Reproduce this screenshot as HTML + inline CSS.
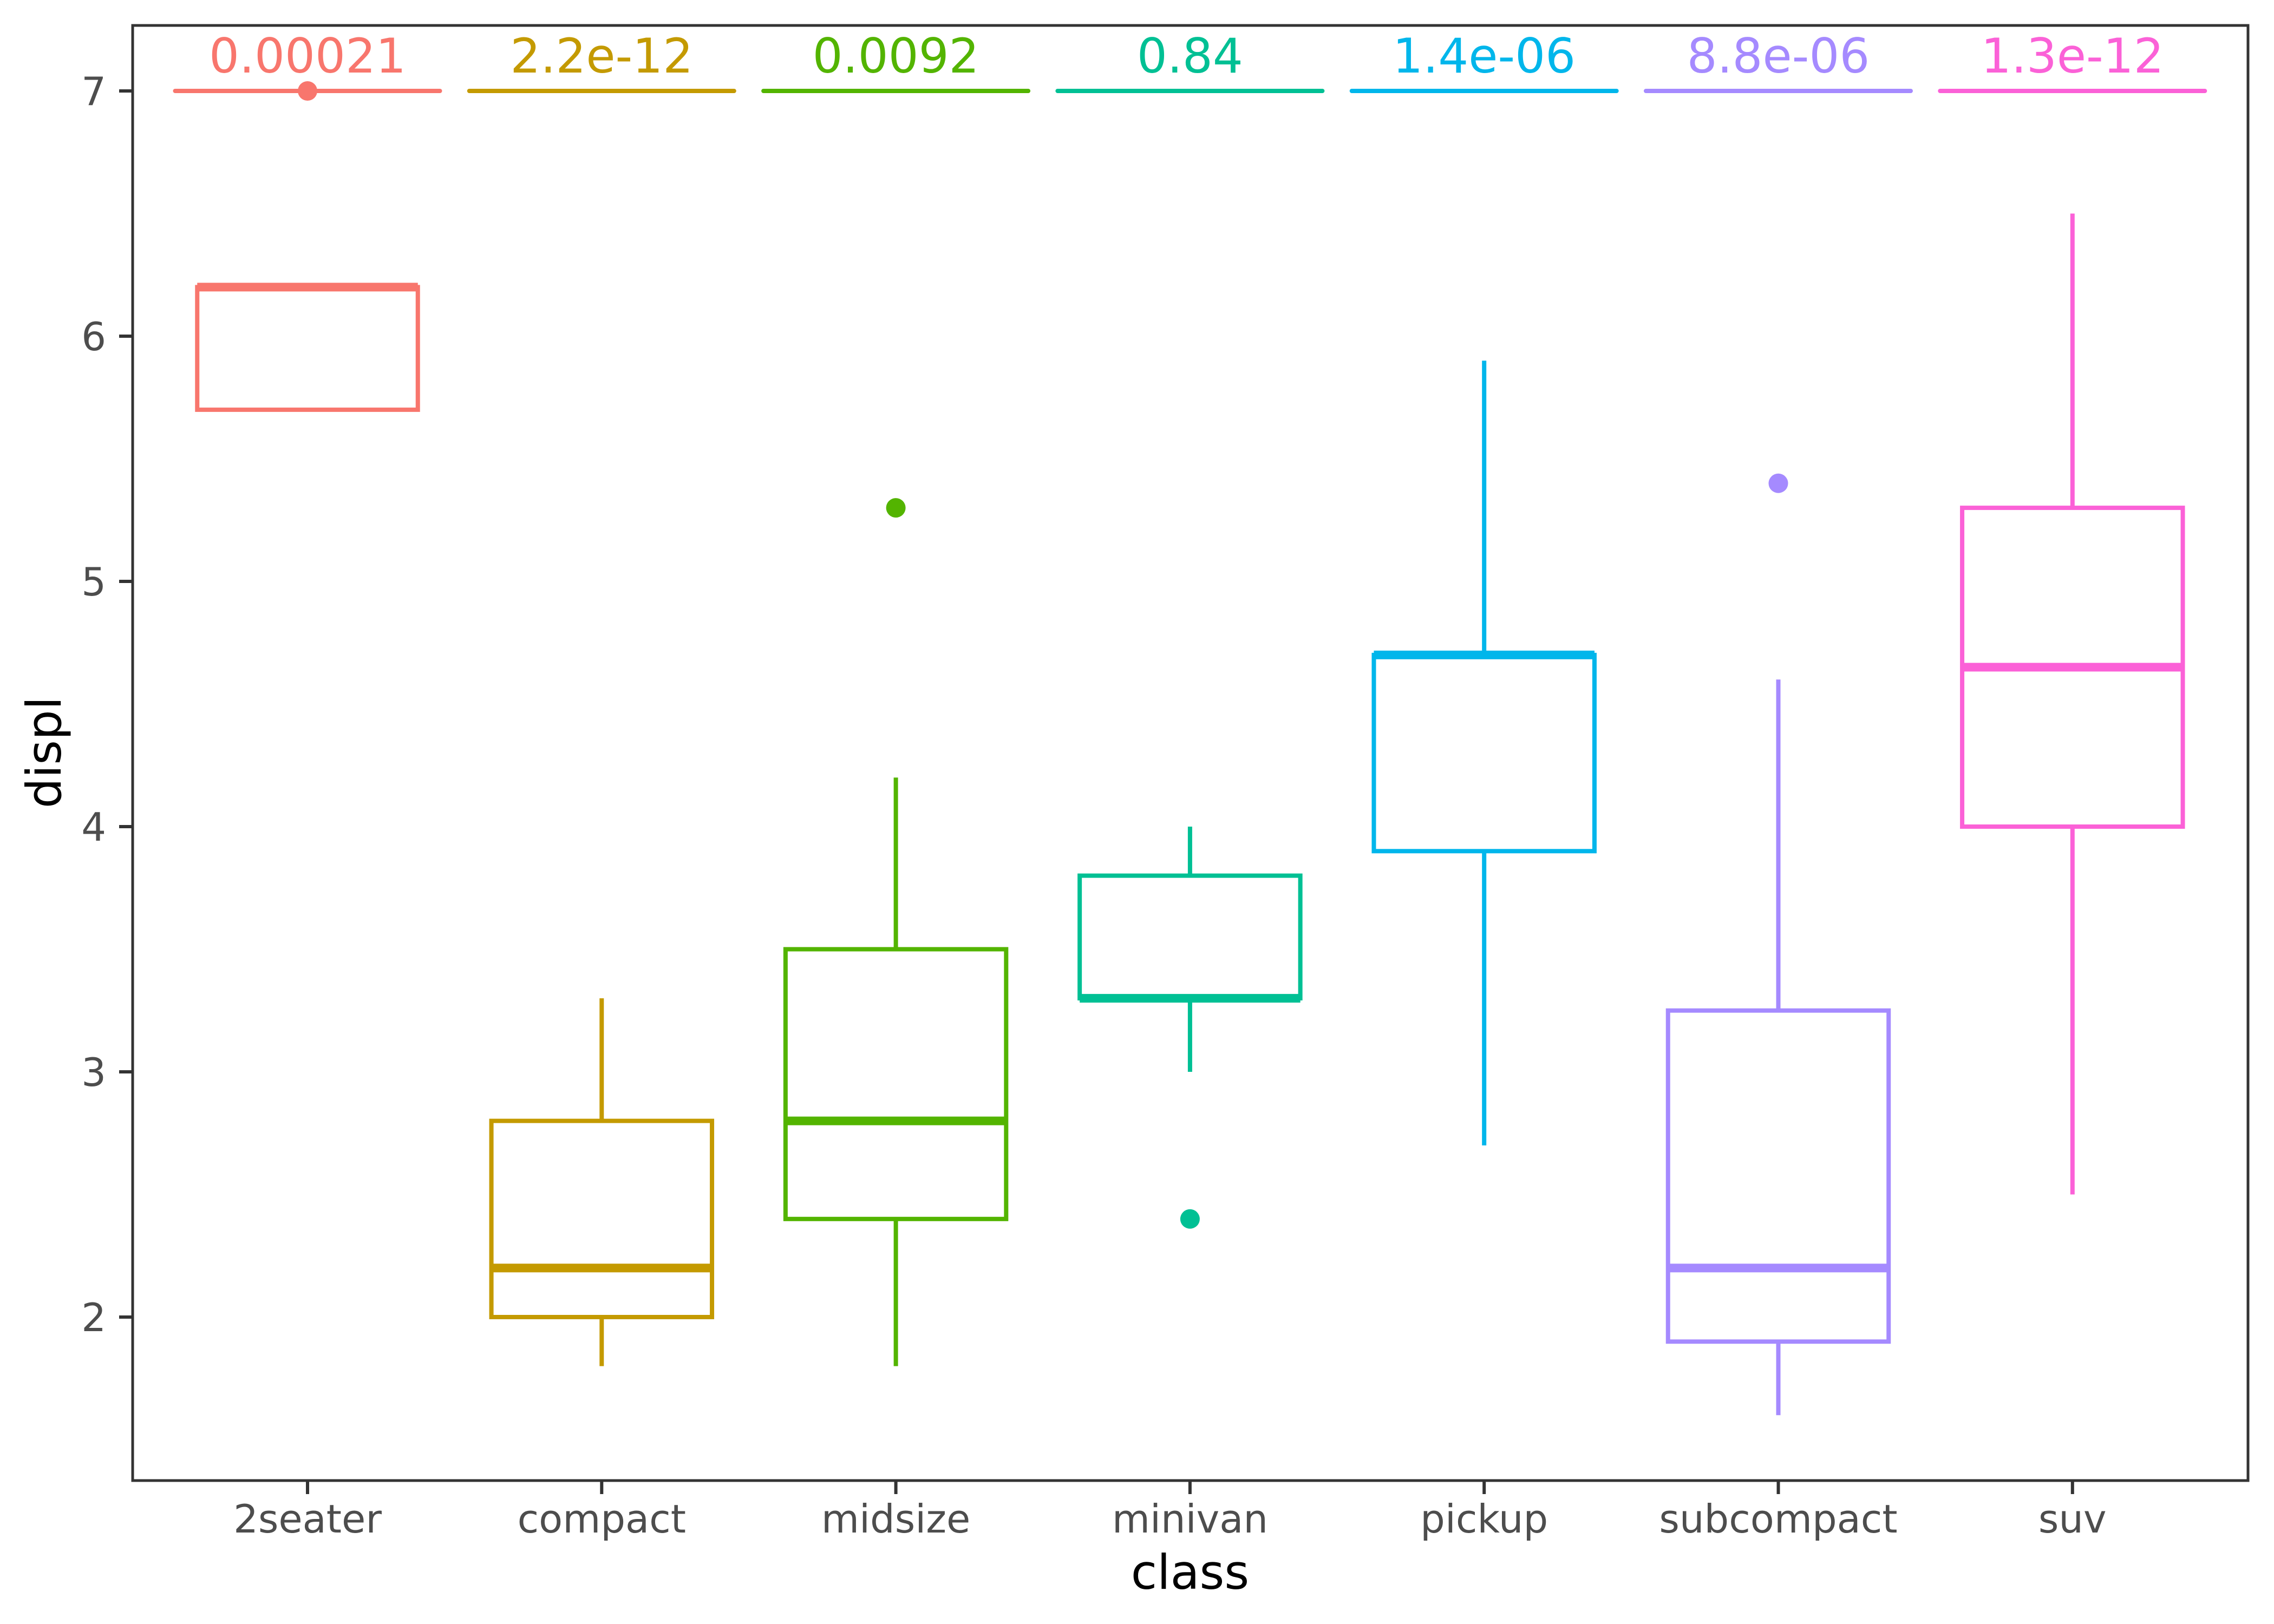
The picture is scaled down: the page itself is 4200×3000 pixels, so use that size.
<!DOCTYPE html>
<html><head><meta charset="utf-8"><style>
html,body{margin:0;padding:0;background:#fff;}
svg{display:block;font-family:"DejaVu Sans","Liberation Sans",sans-serif;}
</style></head><body>
<svg id="chart" width="4200" height="3000" viewBox="0 0 4200 3000" xmlns="http://www.w3.org/2000/svg">
<rect x="0" y="0" width="4200" height="3000" fill="#fff"/>
<g id="marks"></g>
<rect x="245" y="47" width="3907" height="2688" fill="none" stroke="#333" stroke-width="5"/>
<g id="axes"></g>
<text x="2198" y="2935" font-size="88" text-anchor="middle" fill="#000">class</text>
<text x="0" y="0" transform="translate(112,1390) rotate(-90)" font-size="88" text-anchor="middle" fill="#000">displ</text>
</svg>
<script>
const categories = ["2seater","compact","midsize","minivan","pickup","subcompact","suv"];
const colors = ["#F8766D","#C49A00","#53B400","#00C094","#00B6EB","#A58AFF","#FB61D7"];
const whiskerLow = [5.7,1.8,1.8,3.0,2.7,1.6,2.5];
const q1 = [5.7,2.0,2.4,3.3,3.9,1.9,4.0];
const median = [6.2,2.2,2.8,3.3,4.7,2.2,4.65];
const q3 = [6.2,2.8,3.5,3.8,4.7,3.25,5.3];
const whiskerHigh = [6.2,3.3,4.2,4.0,5.9,4.6,6.5];
const outliers = [[7.0],[],[5.3],[2.4],[],[5.4],[]];
const pLabels = ["0.00021","2.2e-12","0.0092","0.84","1.4e-06","8.8e-06","1.3e-12"];
const pY = 7;
const yTicks = [2,3,4,5,6,7];

const NS = "http://www.w3.org/2000/svg";
const x = i => 568 + i * 543.3;
const y = v => 168 + (7 - v) * 453;
const band = 543.3;
const marks = document.getElementById('marks');
const axes = document.getElementById('axes');
function mk(tag, attrs, parent){
  const e = document.createElementNS(NS, tag);
  for (const k in attrs) e.setAttribute(k, attrs[k]);
  parent.appendChild(e);
  return e;
}
categories.forEach((c,i)=>{
  const col = colors[i], cx = x(i), hw = band*0.75/2;
  const g = mk('g', {}, marks);
  
  
  const w1 = mk('line', {x1:cx,x2:cx,y1:y(q3[i]),y2:y(whiskerHigh[i]),stroke:col,'stroke-width':8}, g);
  
  
  const w2 = mk('line', {x1:cx,x2:cx,y1:y(q1[i]),y2:y(whiskerLow[i]),stroke:col,'stroke-width':8}, g);
  
  
  const r = mk('rect', {x:cx-hw,y:y(q3[i]),width:hw*2,height:Math.max(0,y(q1[i])-y(q3[i])),fill:'#fff',stroke:col,'stroke-width':8}, g);
  
  
  const m = mk('line', {x1:cx-hw,x2:cx+hw,y1:y(median[i]),y2:y(median[i]),stroke:col,'stroke-width':16}, g);
  
  
  outliers[i].forEach(v=>{
    const o = mk('circle', {cx:cx,cy:y(v),r:18,fill:col}, g);
    
    
  });
  const pl = mk('line', {x1:cx-band*0.45,x2:cx+band*0.45,y1:y(pY),y2:y(pY),stroke:col,'stroke-width':8,'stroke-linecap':'round'}, g);
  
  
  const pt = mk('text', {x:cx,y:y(pY)-34,'font-size':88,'text-anchor':'middle',fill:col}, g);
  pt.textContent = pLabels[i];
  
  
  const t = mk('line', {x1:cx,x2:cx,y1:2737,y2:2760,stroke:'#333','stroke-width':6}, axes);
  
  
  const tl = mk('text', {x:cx,y:2831,'font-size':72,'text-anchor':'middle',fill:'#4d4d4d'}, axes);
  tl.textContent = c;
  
  
});
yTicks.forEach(v=>{
  const t = mk('line', {x1:220,x2:243,y1:y(v),y2:y(v),stroke:'#333','stroke-width':6}, axes);
  
  
  const tl = mk('text', {x:196,y:y(v)+26,'font-size':72,'text-anchor':'end',fill:'#4d4d4d'}, axes);
  tl.textContent = v;
  
  
});
</script>
</body></html>
